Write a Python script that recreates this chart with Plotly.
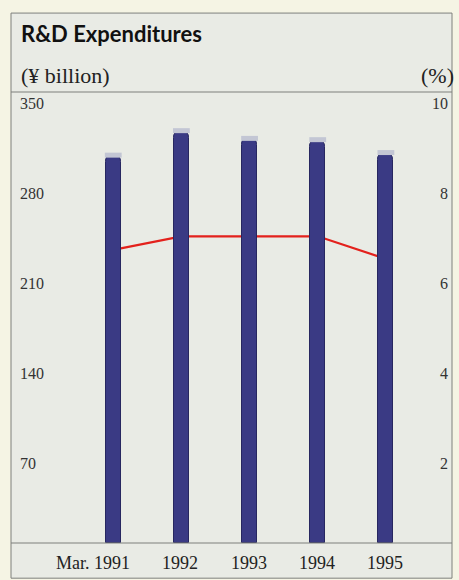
import plotly.graph_objects as go

categories = ["1991", "1992", "1993", "1994", "1995"]
x_labels = ["Mar. 1991", "1992", "1993", "1994", "1995"]
rd_expenditures = [301, 320, 314, 313, 303]       # ¥ billion
rd_ratio = [6.5, 6.8, 6.8, 6.8, 6.3]               # %
left_ticks = [70, 140, 210, 280, 350]
right_ticks = [2, 4, 6, 8, 10]

SERIF = "Liberation Serif"
SANS = "Lato"
FRAME = "#7f807c"

fig = go.Figure()

# ratio line on primary (drawn beneath bars)
fig.add_trace(go.Scatter(
    x=categories, y=rd_ratio, mode="lines",
    line=dict(color="#e3211c", width=2.2),
    yaxis="y", hoverinfo="skip", showlegend=False,
))

# bars on overlaying axis (drawn above)
fig.add_trace(go.Bar(
    x=categories, y=rd_expenditures, yaxis="y2",
    width=0.22,
    marker=dict(color="#3a3a84", line=dict(color="#272760", width=1), cornerradius=7),
    showlegend=False,
))
# light cap on each column
fig.add_trace(go.Scatter(
    x=categories, y=rd_expenditures, yaxis="y2", mode="markers",
    marker=dict(symbol="line-ew", size=12, line=dict(color="#c3c6d4", width=5)),
    hoverinfo="skip", showlegend=False,
))

fig.update_layout(
    width=459, height=580,
    margin=dict(l=11, r=7, t=92, b=37),
    paper_bgcolor="#f5f4e4",
    plot_bgcolor="rgba(0,0,0,0)",
    bargap=0,
    xaxis=dict(
        type="category", range=[-1.5, 4.97],
        showticklabels=False, showgrid=False, zeroline=False,
        showline=False, ticks="",
    ),
    yaxis=dict(
        side="right", range=[0, 10], tickvals=right_ticks,
        showticklabels=False,
        showgrid=False, zeroline=False, showline=False, ticks="",
    ),
    yaxis2=dict(
        side="left", overlaying="y", range=[0, 350], tickvals=left_ticks,
        showticklabels=False,
        showgrid=False, zeroline=False, showline=False, ticks="",
    ),
    shapes=[
        dict(type="rect", xref="paper", yref="paper", x0=0, x1=1, y0=-0.078, y1=1.175,
             fillcolor="#e9ebe5", line=dict(color=FRAME, width=1), layer="below"),
        dict(type="line", xref="paper", yref="paper", x0=0, x1=1, y0=1, y1=1,
             line=dict(color=FRAME, width=1.2)),
        dict(type="line", xref="paper", yref="paper", x0=0, x1=1, y0=0, y1=0,
             line=dict(color=FRAME, width=1.2)),
    ],
)

annotations = [
    dict(text="<b>R&D Expenditures</b>", xref="paper", yref="paper", x=0, y=1,
         xanchor="left", yanchor="middle", xshift=8, yshift=59, showarrow=False,
         font=dict(family=SANS, size=22, color="#111111")),
    dict(text="(¥ billion)", xref="paper", yref="paper", x=0, y=1,
         xanchor="left", yanchor="middle", xshift=8, yshift=17, showarrow=False,
         font=dict(family=SERIF, size=22, color="#222222")),
    dict(text="(%)", xref="paper", yref="paper", x=1, y=1,
         xanchor="right", yanchor="middle", xshift=4, yshift=17, showarrow=False,
         font=dict(family=SERIF, size=22, color="#222222")),
]
# left tick labels (¥ billion), placed just below each tick level
for v in left_ticks:
    annotations.append(dict(
        text=str(v), xref="paper", yref="y2", x=0, y=v,
        xanchor="left", yanchor="middle", xshift=7, yshift=-11, showarrow=False,
        font=dict(family=SERIF, size=16, color="#333333"),
    ))
# right tick labels (%)
for v in right_ticks:
    annotations.append(dict(
        text=str(v), xref="paper", yref="y", x=1, y=v,
        xanchor="right", yanchor="middle", xshift=-2, yshift=-11, showarrow=False,
        font=dict(family=SERIF, size=16, color="#333333"),
    ))
# category labels
for i, lab in enumerate(x_labels):
    annotations.append(dict(
        text=lab, x=i, xref="x", yref="paper", y=0,
        xanchor="right", yanchor="middle", xshift=19, yshift=-20, showarrow=False,
        font=dict(family=SERIF, size=18, color="#222222"),
    ))
fig.update_layout(annotations=annotations)

fig.write_html("out.html")
